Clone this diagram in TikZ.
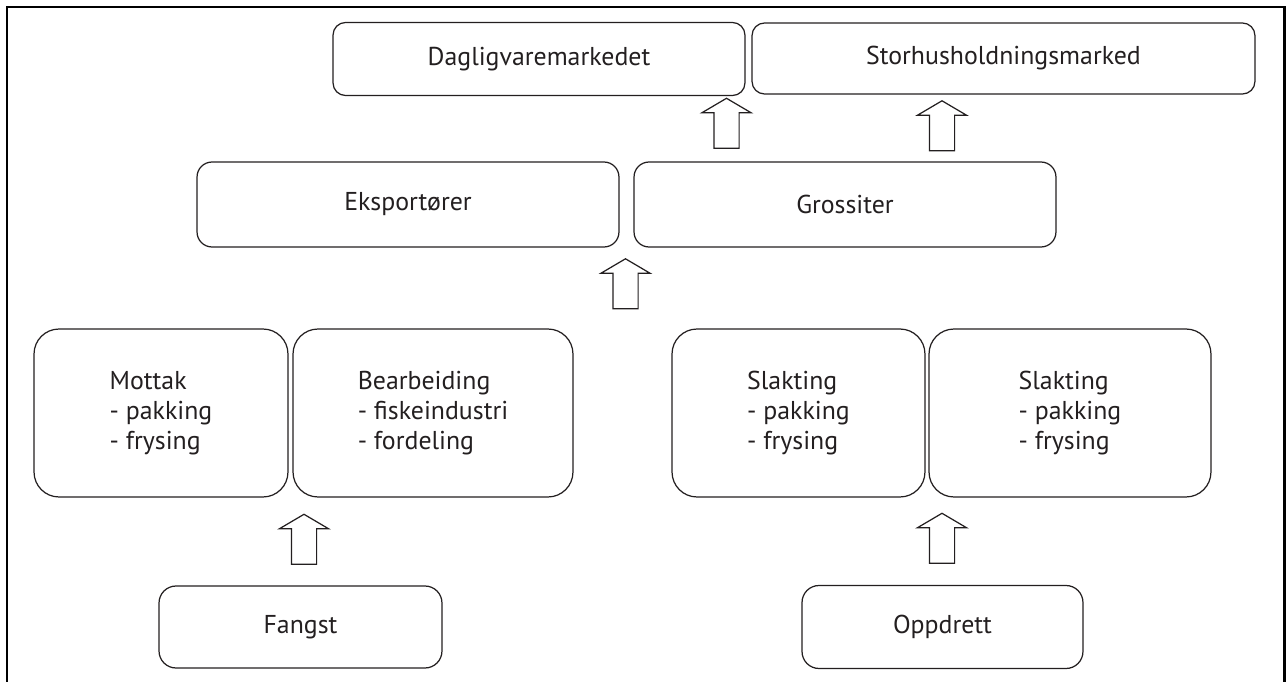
\documentclass[tikz,border=0pt]{standalone}
\usepackage{fontspec}
\setmainfont{PT Sans}
\usetikzlibrary{shapes.arrows}
\definecolor{ink}{HTML}{231F20}

\tikzset{
  box/.style={draw=ink, text=ink, line width=0.7pt, rounded corners=#1,
    align=left, inner sep=0pt, font=\fontsize{14.7}{17}\selectfont},
  box/.default=0.3cm,
  uparrow/.style={draw=ink, line width=0.7pt, single arrow, rotate=90,
    inner xsep=0pt, inner ysep=0.24cm, minimum height=1cm,
    single arrow head extend=0.24cm, single arrow tip angle=119},
  frame/.style={line width=1.7pt, line join=miter}
}

\begin{document}
\begin{tikzpicture}[x=0.02cm, y=-0.02cm]
\useasboundingbox (0,0) rectangle (1286,682);

% frame, open at the bottom
\draw[frame] (7,682) -- (7,7) -- (1284,7) -- (1284,682);

% markets
\node[box=0.25cm, minimum width=8.24cm, minimum height=1.46cm] (dagl) at (539,59) {Dagligvaremarkedet};
\node[box=0.25cm, minimum width=10.06cm, minimum height=1.42cm] (stor) at (1003.5,58.5) {Storhusholdningsmarked};

% traders
\node[box, minimum width=8.44cm, minimum height=1.7cm] (eksp) at (408,204.5) {Eksportører};
\node[box, minimum width=8.44cm, minimum height=1.7cm] (gross) at (845,204.5) {Grossiter};

% processing
\node[box=0.5cm, minimum width=5.08cm, minimum height=3.36cm] (mottak) at (161,413) {Mottak\\- pakking\\- frysing};
\node[box=0.5cm, minimum width=5.6cm, minimum height=3.36cm] (bearb) at (433,413) {Bearbeiding\\- fiskeindustri\\- fordeling};
\node[box=0.5cm, minimum width=5.06cm, minimum height=3.36cm] (slakta) at (798.5,413) {Slakting\\- pakking\\- frysing};
\node[box=0.5cm, minimum width=5.64cm, minimum height=3.36cm] (slaktb) at (1070,413) {Slakting\\- pakking\\- frysing};

% sources
\node[box=0.34cm, minimum width=5.66cm, minimum height=1.64cm] (fangst) at (300.5,627) {Fangst};
\node[box=0.34cm, minimum width=5.62cm, minimum height=1.66cm] (oppdr) at (942.5,627) {Oppdrett};

% block arrows
\node[uparrow] (pila) at (726.5,127) {};
\node[uparrow] (pilb) at (942,129.5) {};
\node[uparrow] (pilc) at (625.5,287.5) {};
\node[uparrow] (pild) at (304,543) {};
\node[uparrow] (pile) at (942,542) {};
\end{tikzpicture}
\end{document}
